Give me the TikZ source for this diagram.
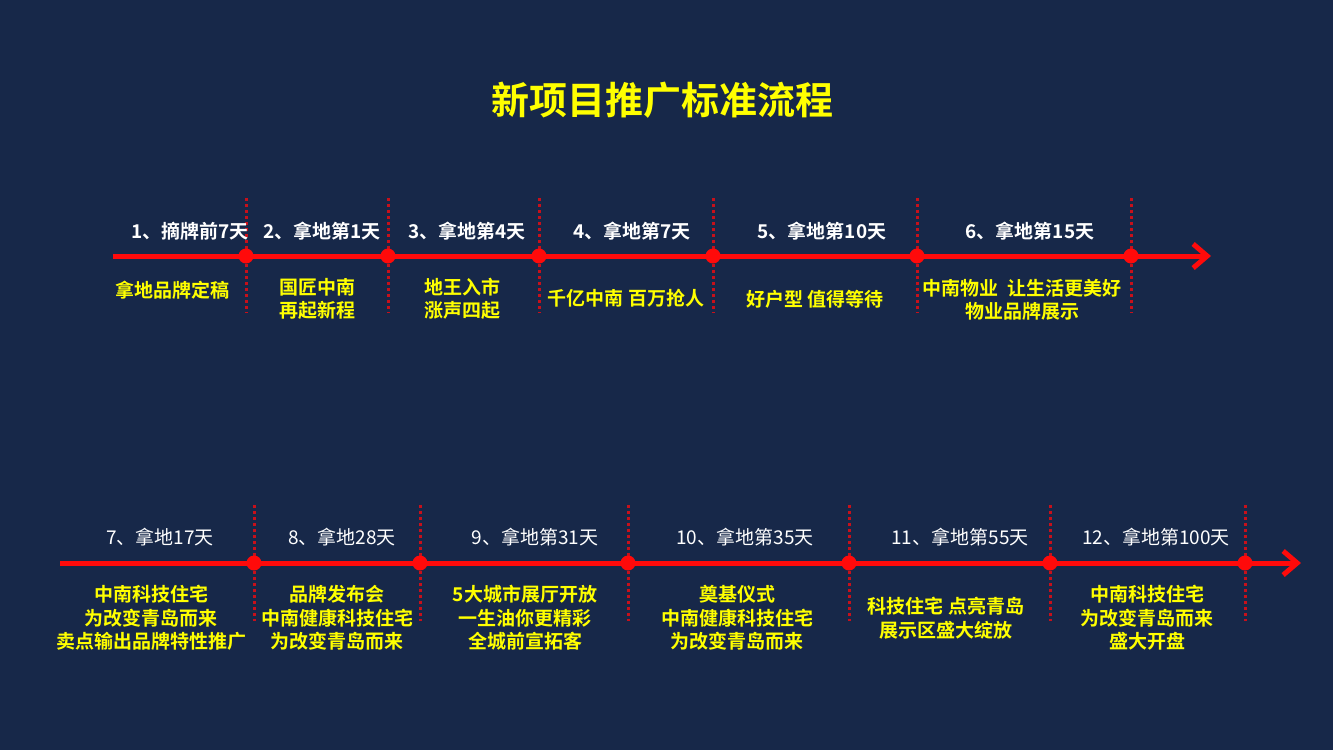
\documentclass[tikz,border=0pt]{standalone}
\usepackage{fontspec}
\setmainfont{Noto Sans CJK SC}[BoldFont={Noto Sans CJK SC Bold}]
\usetikzlibrary{arrows.meta}
\definecolor{slidebg}{HTML}{172849}
\definecolor{lineRed}{HTML}{FF0A0A}
\definecolor{tickRed}{HTML}{C8101A}
\definecolor{noteYellow}{HTML}{FFFF00}

\begin{document}
\begin{tikzpicture}[x=1pt, y=-1pt,
  stagelabel/.style={text=white, font=\fontsize{19}{22}\selectfont\bfseries, inner sep=0pt},
  stageplain/.style={text=white, font=\fontsize{19}{22}\selectfont, inner sep=0pt},
  notetext/.style={text=noteYellow, font=\fontsize{19}{23.5}\selectfont\bfseries, align=center, inner sep=0pt},
  timeline/.style={lineRed, line width=5pt, -{Straight Barb[length=14pt, width=24pt]}},
  tick/.style={tickRed, line width=3pt, dash pattern=on 3pt off 3pt},
  milestone/.style={circle, fill=lineRed, inner sep=0pt, minimum size=15pt}]
  \useasboundingbox[fill=slidebg] (0,0) rectangle (1333,750);

  % title
  \node[text=noteYellow, font=\fontsize{38}{40}\selectfont\bfseries] (title) at (662,100) {新项目推广标准流程};

  % upper timeline
  \foreach \x [count=\i] in {246,388,539,713,917,1131} {
    \coordinate (ut\i) at (\x,198);
    \coordinate (ub\i) at (\x,313);
    \draw[tick] (ut\i) -- (ub\i);
  }
  \coordinate (ustart) at (113,256);
  \coordinate (uend) at (1211,256);
  \draw[timeline] (ustart) -- (uend);
  \foreach \x [count=\i] in {246,388,539,713,917,1131}
    \node[milestone] (um\i) at (\x,256) {};

  \node[stagelabel] (us1) at (190,231) {1、摘牌前7天};
  \node[stagelabel] (us2) at (322,231) {2、拿地第1天};
  \node[stagelabel] (us3) at (467,231) {3、拿地第4天};
  \node[stagelabel] (us4) at (632,231) {4、拿地第7天};
  \node[stagelabel] (us5) at (822,231) {5、拿地第10天};
  \node[stagelabel] (us6) at (1030,231) {6、拿地第15天};

  \node[notetext] (un1) at (172,290) {拿地品牌定稿};
  \node[notetext] (un2) at (317,299) {国匠中南\\再起新程};
  \node[notetext] (un3) at (462,299) {地王入市\\涨声四起};
  \node[notetext] (un4) at (626,298) {千亿中南 百万抢人};
  \node[notetext] (un5) at (815,299) {好户型 值得等待};
  \node[notetext] (un6) at (1022,300) {中南物业\ \ 让生活更美好\\物业品牌展示};

  % lower timeline
  \foreach \x [count=\i] in {254,420,628,849,1050,1245} {
    \coordinate (lt\i) at (\x,505);
    \coordinate (lb\i) at (\x,621);
    \draw[tick] (lt\i) -- (lb\i);
  }
  \coordinate (lstart) at (60,563);
  \coordinate (lend) at (1301,563);
  \draw[timeline] (lstart) -- (lend);
  \foreach \x [count=\i] in {254,420,628,849,1050,1245}
    \node[milestone] (lm\i) at (\x,563) {};

  \node[stageplain] (ls1) at (160,537) {7、拿地17天};
  \node[stageplain] (ls2) at (342,537) {8、拿地28天};
  \node[stageplain] (ls3) at (535,537) {9、拿地第31天};
  \node[stageplain] (ls4) at (745,537) {10、拿地第35天};
  \node[stageplain] (ls5) at (960,537) {11、拿地第55天};
  \node[stageplain] (ls6) at (1156,537) {12、拿地第100天};

  \node[notetext] (ln1) at (151,618) {中南科技住宅\\为改变青岛而来\\卖点输出品牌特性推广};
  \node[notetext] (ln2) at (337,618) {品牌发布会\\中南健康科技住宅\\为改变青岛而来};
  \node[notetext] (ln3) at (525,618) {5大城市展厅开放\\一生油你更精彩\\全城前宣拓客};
  \node[notetext] (ln4) at (737,618) {奠基仪式\\中南健康科技住宅\\为改变青岛而来};
  \node[notetext] (ln5) at (946,618) {科技住宅 点亮青岛\\展示区盛大绽放};
  \node[notetext] (ln6) at (1147,618) {中南科技住宅\\为改变青岛而来\\盛大开盘};
\end{tikzpicture}
\end{document}
